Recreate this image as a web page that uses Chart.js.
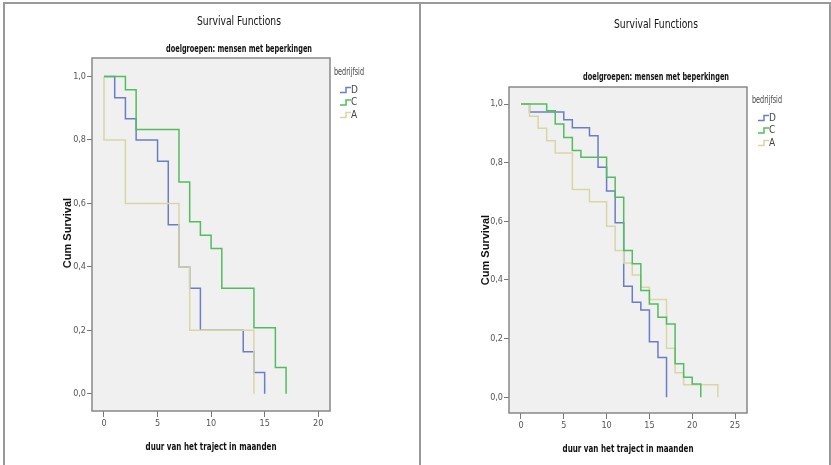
<!DOCTYPE html>
<html>
<head>
<meta charset="utf-8">
<script src="https://cdn.jsdelivr.net/npm/chart.js@4.4.0/dist/chart.umd.min.js"></script>
<style>
    html, body { margin: 0; padding: 0; background: #fff; }
    #page { position: relative; width: 831px; height: 465px; overflow: hidden; }
    canvas { position: absolute; top: 0; }
    .rule { position: absolute; background: #999; }
</style>
</head>
<body>
<div id="page">
    <canvas id="left" width="420" height="465" style="left:0"></canvas>
    <canvas id="right" width="411" height="465" style="left:420px"></canvas>
    <div class="rule" style="left:3px;top:2px;width:828px;height:2px"></div>
    <div class="rule" style="left:3px;top:2px;width:2px;height:463px"></div>
    <div class="rule" style="left:419px;top:2px;width:2px;height:463px"></div>
    <div class="rule" style="left:829px;top:2px;width:2px;height:463px"></div>
</div>
<script>
/* globals Chart */

const NARROW = "'Liberation Sans Narrow', 'DejaVu Sans Condensed', 'Arial Narrow', sans-serif";
const WIDE = "'Liberation Sans', Arial, sans-serif";

const groups = ["D", "C", "A"];
const groupColors = ["#6a7ec8", "#52bd5e", "#d9d6a6"];
const groupOrder = [2, 0, 1]; // C drawn on top, then A, then D

const survivalTicks = [0, 0.2, 0.4, 0.6, 0.8, 1.0];
const monthTicksLeft = [0, 5, 10, 15, 20];
const monthTicksRight = [0, 5, 10, 15, 20, 25];

// left panel: months and cumulative survival per bedrijf
const leftTimesD = [0, 1, 2, 3, 5, 6, 7, 8, 9, 13, 14, 15];
const leftSurvD = [1, 0.933, 0.867, 0.8, 0.733, 0.533, 0.4, 0.333, 0.2, 0.133, 0.067, 0];
const leftTimesC = [0, 2, 3, 7, 8, 9, 10, 11, 14, 16, 17];
const leftSurvC = [1, 0.958, 0.833, 0.667, 0.542, 0.5, 0.458, 0.333, 0.208, 0.083, 0];
const leftTimesA = [0, 0, 2, 7, 8, 14];
const leftSurvA = [1, 0.8, 0.6, 0.4, 0.2, 0];

// right panel
const rightTimesD = [0, 1, 5, 6, 8, 9, 10, 11, 12, 13, 14, 15, 16, 17];
const rightSurvD = [1, 0.973, 0.946, 0.919, 0.892, 0.784, 0.703, 0.595, 0.378, 0.324, 0.297, 0.189, 0.135, 0];
const rightTimesC = [0, 3, 4, 5, 6, 7, 10, 11, 12, 13, 14, 15, 16, 17, 18, 19, 20, 21];
const rightSurvC = [1, 0.977, 0.932, 0.886, 0.841, 0.818, 0.75, 0.682, 0.5, 0.455, 0.364, 0.318, 0.273, 0.25, 0.114, 0.068, 0.045, 0];
const rightTimesA = [0, 1, 2, 3, 4, 6, 8, 10, 11, 12, 13, 14, 15, 17, 18, 19, 23];
const rightSurvA = [1, 0.958, 0.917, 0.875, 0.833, 0.708, 0.667, 0.583, 0.5, 0.458, 0.417, 0.375, 0.333, 0.167, 0.083, 0.042, 0];

const chartTitle = "Survival Functions";
const chartSubtitle = "doelgroepen: mensen met beperkingen";
const xTitle = "duur van het traject in maanden";
const yTitle = "Cum Survival";
const legendTitle = "bedrijfsid";

const toPoints = (times, surv) => times.map((t, i) => ({ x: t, y: surv[i] }));

// background, frame, titles and the spss-like legend
const panelDecor = {
    id: "panelDecor",
    beforeDraw(chart) {
        const { ctx, chartArea: a } = chart;
        ctx.save();
        ctx.fillStyle = "#f0f0f0";
        ctx.fillRect(a.left, a.top, a.width, a.height);
        ctx.restore();
    },
    afterDraw(chart, args, o) {
        const { ctx, chartArea: a } = chart;
        ctx.save();
        ctx.strokeStyle = "#888";
        ctx.lineWidth = 1.5;
        ctx.strokeRect(a.left, a.top, a.width, a.height);

        ctx.textAlign = "center";
        ctx.textBaseline = "middle";
        ctx.fillStyle = "#111";
        ctx.font = "13px " + NARROW;
        ctx.fillText(chartTitle, o.titleX, o.titleY, 84);
        ctx.font = "bold 10px " + NARROW;
        ctx.fillText(chartSubtitle, o.titleX, o.subtitleY, 146);
        ctx.font = "bold 11px " + NARROW;
        ctx.fillText(xTitle, o.xTitleX, o.xTitleY, 131);

        ctx.save();
        ctx.translate(o.yTitleX, o.yTitleY);
        ctx.rotate(-Math.PI / 2);
        ctx.font = "bold 11px " + WIDE;
        ctx.fillText(yTitle, 0, 0, o.yTitleW);
        ctx.restore();

        ctx.textAlign = "left";
        ctx.fillStyle = "#444";
        ctx.font = "10px " + NARROW;
        ctx.fillText(legendTitle, o.legendX, o.legendY, 30);
        chart.data.datasets.forEach((ds, i) => {
            const y = o.legendY + 18 + i * o.legendGap;
            const x = o.legendX + 6;
            ctx.strokeStyle = ds.borderColor;
            ctx.lineWidth = 1.5;
            ctx.beginPath();
            ctx.moveTo(x, y + 2.5);
            ctx.lineTo(x + 6, y + 2.5);
            ctx.lineTo(x + 6, y - 2.5);
            ctx.lineTo(x + 11, y - 2.5);
            ctx.stroke();
            ctx.fillStyle = "#444";
            ctx.fillText(ds.label, x + 11, y, 8);
        });
        ctx.restore();
    }
};

const makeChart = (id, series, monthTicks, xMin, xMax, padding, decor) => {
    const datasets = series.map((s, i) => ({
        label: groups[i],
        data: toPoints(s[0], s[1]),
        borderColor: groupColors[i],
        borderWidth: 1.5,
        stepped: "before",
        pointRadius: 0,
        fill: false,
        order: groupOrder[i]
    }));
    const tickFont = { family: NARROW, size: 9 };
    return new Chart(document.getElementById(id), {
        type: "line",
        data: { datasets },
        plugins: [panelDecor],
        options: {
            responsive: false,
            animation: false,
            devicePixelRatio: 1,
            layout: { padding },
            plugins: {
                legend: { display: false },
                tooltip: { enabled: false },
                panelDecor: decor
            },
            scales: {
                x: {
                    type: "linear",
                    min: xMin,
                    max: xMax,
                    afterBuildTicks: (scale) => { scale.ticks = monthTicks.map((v) => ({ value: v })); },
                    afterFit: (scale) => { scale.height = 20; },
                    border: { display: false },
                    grid: { drawOnChartArea: false, tickLength: 6, color: "#777" },
                    ticks: { padding: 1, font: tickFont, color: "#555", maxRotation: 0, autoSkip: false }
                },
                y: {
                    min: -0.054,
                    max: 1.058,
                    afterBuildTicks: (scale) => { scale.ticks = survivalTicks.map((v) => ({ value: v })); },
                    afterFit: (scale) => { scale.width = 30; },
                    border: { display: false },
                    grid: { drawOnChartArea: false, tickLength: 5, color: "#777" },
                    ticks: {
                        padding: 1,
                        font: tickFont,
                        color: "#555",
                        callback: (v) => v.toFixed(1).replace(".", ",")
                    }
                }
            }
        }
    });
};

makeChart(
    "left",
    [[leftTimesD, leftSurvD], [leftTimesC, leftSurvC], [leftTimesA, leftSurvA]],
    monthTicksLeft, -1.12, 21.1,
    { left: 62, right: 90, top: 58, bottom: 34 },
    { titleX: 239, titleY: 22, subtitleY: 49, xTitleX: 211, xTitleY: 447,
      yTitleX: 68, yTitleY: 233, yTitleW: 78, legendX: 334, legendY: 72, legendGap: 12.5 }
);

makeChart(
    "right",
    [[rightTimesD, rightSurvD], [rightTimesC, rightSurvC], [rightTimesA, rightSurvA]],
    monthTicksRight, -1.4, 26.4,
    { left: 59, right: 84, top: 87, bottom: 32 },
    { titleX: 236, titleY: 25, subtitleY: 77, xTitleX: 208, xTitleY: 449,
      yTitleX: 66, yTitleY: 250, yTitleW: 86, legendX: 332, legendY: 100, legendGap: 12.5 }
);
</script>
</body>
</html>
